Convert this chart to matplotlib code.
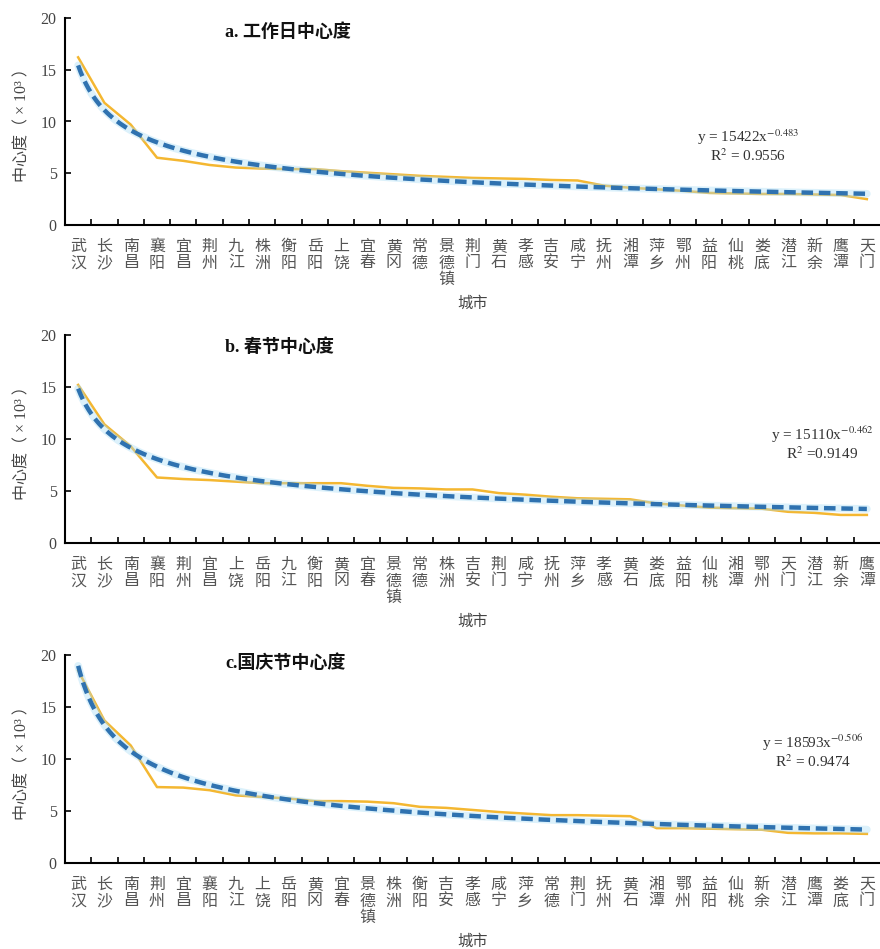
# 城市中心度排序曲线（工作日 / 春节 / 国庆节）+ 幂函数拟合
import numpy as np
import matplotlib
matplotlib.use("Agg")
import matplotlib.pyplot as plt

plt.rcParams["font.family"] = ["Liberation Serif", "Noto Sans CJK SC"]
plt.rcParams["mathtext.fontset"] = "stix"

# a. 工作日
cities_a = ["武汉", "长沙", "南昌", "襄阳", "宜昌", "荆州", "九江", "株洲", "衡阳", "岳阳",
            "上饶", "宜春", "黄冈", "常德", "景德镇", "荆门", "黄石", "孝感", "吉安", "咸宁",
            "抚州", "湘潭", "萍乡", "鄂州", "益阳", "仙桃", "娄底", "潜江", "新余", "鹰潭", "天门"]
values_a = [16.2, 11.8, 9.7, 6.5, 6.2, 5.8, 5.55, 5.45, 5.4, 5.4,
            5.2, 5.05, 4.9, 4.75, 4.65, 4.55, 4.5, 4.45, 4.35, 4.3,
            3.8, 3.6, 3.45, 3.3, 3.1, 3.05, 3.0, 3.0, 2.95, 2.9, 2.5]

# b. 春节
cities_b = ["武汉", "长沙", "南昌", "襄阳", "荆州", "宜昌", "上饶", "岳阳", "九江", "衡阳",
            "黄冈", "宜春", "景德镇", "常德", "株洲", "吉安", "荆门", "咸宁", "抚州", "萍乡",
            "孝感", "黄石", "娄底", "益阳", "仙桃", "湘潭", "鄂州", "天门", "潜江", "新余", "鹰潭"]
values_b = [15.2, 11.4, 9.3, 6.3, 6.15, 6.05, 5.9, 5.75, 5.75, 5.75,
            5.75, 5.5, 5.3, 5.25, 5.15, 5.15, 4.8, 4.65, 4.45, 4.3,
            4.25, 4.2, 3.8, 3.6, 3.4, 3.35, 3.3, 3.0, 2.9, 2.7, 2.7]

# c. 国庆节
cities_c = ["武汉", "长沙", "南昌", "荆州", "宜昌", "襄阳", "九江", "上饶", "岳阳", "黄冈",
            "宜春", "景德镇", "株洲", "衡阳", "吉安", "孝感", "咸宁", "萍乡", "常德", "荆门",
            "抚州", "黄石", "湘潭", "鄂州", "益阳", "仙桃", "新余", "潜江", "鹰潭", "娄底", "天门"]
values_c = [18.5, 13.7, 11.3, 7.3, 7.25, 7.0, 6.5, 6.35, 6.2, 5.95,
            5.95, 5.9, 5.75, 5.4, 5.3, 5.1, 4.9, 4.75, 4.6, 4.6,
            4.55, 4.5, 3.35, 3.35, 3.3, 3.25, 3.2, 2.9, 2.85, 2.85, 2.8]

titles = ["a. 工作日中心度", "b. 春节中心度", "c.国庆节中心度"]
equations = [("y = 15422x$^{-0.483}$", "R$^2$ = 0.9556"),
             ("y = 15110x$^{-0.462}$", "R$^2$ =0.9149"),
             ("y = 18593x$^{-0.506}$", "R$^2$ = 0.9474")]

W, H = 880, 949
# (top px, bottom px, title y px, equation centre x px, equation y px)
layout = [(18, 225, 32, 748, 137),
          (335, 543, 347, 822, 435),
          (655, 863, 663, 813, 743)]

fig = plt.figure(figsize=(W / 100, H / 100), dpi=100)

panels = [(cities_a, values_a), (cities_b, values_b), (cities_c, values_c)]
for k, (cities, vals) in enumerate(panels):
    top, bot, ty, ex, ey = layout[k]
    ax = fig.add_axes([65 / W, 1 - bot / H, 815 / W, (bot - top) / H])
    n = len(cities)
    pos = np.arange(n)
    vals = np.array(vals)

    # 幂函数拟合 y = a * rank^b
    rank = pos + 1
    b, loga = np.polyfit(np.log(rank), np.log(vals), 1)
    xr = np.linspace(1, n, 300)
    yfit = np.exp(loga) * xr ** b

    ax.plot(pos, vals, color="#F4B731", lw=1.8, zorder=2)
    ax.plot(xr - 1, yfit, color="#A8DDF5", lw=5.5, alpha=0.4,
            solid_capstyle="round", zorder=3)
    ax.plot(xr - 1, yfit, color="#2F72B0", lw=3.2, dashes=(2.6, 1.3), zorder=4)

    ax.set_xlim(-0.5, n - 0.5)
    ax.set_ylim(0, 20)
    ax.set_yticks([0, 5, 10, 15, 20])
    ax.set_xticks(pos)
    ax.set_xticklabels(["\n".join(c) for c in cities], va="top")
    ax.set_xticks(pos[:-1] + 0.5, minor=True)
    ax.tick_params(axis="x", which="major", length=0, pad=10, labelsize=11.5,
                   labelcolor="#555555")
    ax.tick_params(axis="x", which="minor", direction="in", length=4, width=1.2)
    ax.tick_params(axis="y", direction="in", length=4, width=1.2, pad=6,
                   labelsize=11.5, labelcolor="#444444")
    for t in ax.get_xticklabels():
        t.set_linespacing(1.05)

    for s in ["top", "right"]:
        ax.spines[s].set_visible(False)
    for s in ["left", "bottom"]:
        ax.spines[s].set_linewidth(1.5)

    ax.set_ylabel("中心度（ × 10³ ）", fontsize=11.5, color="#444444", labelpad=7)
    ax.set_xlabel("城市", fontsize=11, color="#444444", labelpad=6)

    ax.text((225 - 65) / 815, 1 - (ty - top) / (bot - top), titles[k],
            transform=ax.transAxes, ha="left", va="center",
            fontsize=13, fontweight="bold", color="#111111")
    ax.text((ex - 65) / 815, 1 - (ey - top) / (bot - top), equations[k][0],
            transform=ax.transAxes, ha="center", va="center",
            fontsize=11, color="#333333")
    ax.text((ex - 65) / 815, 1 - (ey + 19 - top) / (bot - top), equations[k][1],
            transform=ax.transAxes, ha="center", va="center",
            fontsize=11, color="#333333")

fig.savefig("out.png", dpi=100)
